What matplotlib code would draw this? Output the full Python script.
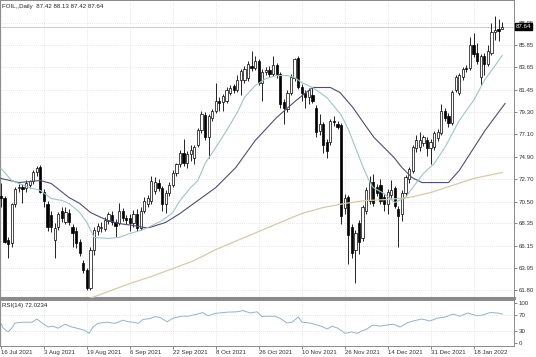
import numpy as np
import matplotlib
matplotlib.use("Agg")
import matplotlib.pyplot as plt
import matplotlib.transforms as mtransforms

# daily candles, one per trading day from 16 Jul 2021
opens = [71.0, 70.8, 66.7, 66.4, 70.3, 71.8, 71.9, 71.8, 72.1, 72.5,
         73.4, 73.9, 71.4, 70.3, 69.2, 66.7, 68.0, 69.6, 68.5, 69.4,
         68.0, 67.6, 66.5, 64.5, 63.8, 62.0, 65.7, 67.6, 67.9, 67.8,
         68.6, 69.2, 68.5, 68.4, 69.6, 68.9, 68.9, 68.4, 69.3, 67.9,
         69.6, 70.3, 70.6, 71.5, 72.3, 71.8, 70.3, 71.3, 72.1, 73.3,
         74.2, 75.3, 74.3, 75.2, 74.8, 76.0, 77.5, 79.0, 76.8, 78.7,
         79.4, 80.4, 80.3, 80.4, 81.1, 81.8, 81.4, 82.4, 82.4, 82.6,
         83.8, 83.6, 84.3, 82.1, 83.2, 83.4, 83.0, 83.9, 83.0, 80.3,
         79.6, 81.1, 82.6, 84.6, 81.7, 81.1, 80.7, 80.9, 79.7, 77.4,
         78.1, 76.3, 76.3, 78.4, 78.1, 78.0, 69.9, 70.9, 68.0, 65.7,
         68.4, 66.9, 69.6, 70.6, 72.4, 71.9, 72.1, 70.9, 70.3, 71.1,
         71.8, 69.8, 69.3, 71.3, 72.7, 73.5, 75.7, 75.8, 76.2, 76.5,
         75.7, 75.8, 76.7, 77.2, 79.4, 78.9, 78.2, 81.4, 81.1, 82.7,
         83.6, 83.6, 85.8, 85.1, 82.7, 84.8, 84.0, 85.1, 87.1, 87.4,
         87.42]
highs = [72.3, 71.0, 67.0, 70.4, 71.9, 72.2, 72.2, 72.6, 72.6, 73.6,
         74.0, 74.1, 71.7, 70.6, 69.6, 68.4, 69.5, 70.0, 70.0, 69.8,
         68.3, 68.0, 66.8, 64.8, 64.0, 66.0, 68.0, 68.4, 68.5, 69.0,
         69.5, 69.6, 68.8, 70.4, 69.9, 69.2, 69.3, 69.7, 69.8, 70.0,
         70.9, 71.1, 73.0, 72.9, 72.7, 72.0, 71.6, 72.4, 73.6, 74.3,
         75.6, 76.6, 75.5, 76.0, 76.0, 77.7, 79.4, 79.3, 79.1, 79.6,
         82.1, 80.7, 81.0, 81.7, 81.9, 82.0, 82.9, 83.5, 83.8, 84.3,
         85.3, 84.8, 84.5, 83.5, 83.7, 83.8, 84.8, 84.1, 83.2, 80.6,
         81.4, 83.0, 84.6, 84.8, 82.0, 81.4, 81.6, 81.7, 80.0, 79.1,
         78.3, 76.6, 78.6, 78.9, 78.4, 78.2, 71.2, 71.1, 68.3, 67.7,
         68.7, 70.2, 71.9, 73.0, 73.2, 72.2, 72.7, 71.2, 71.7, 72.6,
         72.0, 70.1, 71.6, 73.1, 73.9, 76.0, 77.0, 77.3, 77.0, 76.8,
         76.6, 77.4, 77.6, 80.1, 79.7, 79.2, 81.4, 82.9, 83.1, 83.7,
         83.9, 86.6, 87.0, 86.0, 85.0, 85.1, 85.8, 88.0, 88.7, 88.4,
         88.13]
lows = [70.0, 66.4, 65.0, 66.0, 70.0, 71.4, 70.4, 71.4, 71.8, 72.2,
        73.0, 71.3, 70.0, 67.6, 67.5, 65.0, 67.7, 68.5, 68.3, 68.2,
        66.0, 65.9, 65.2, 63.5, 61.8, 61.8, 65.3, 67.2, 67.5, 67.6,
        68.3, 68.2, 67.0, 68.2, 68.6, 68.3, 67.6, 68.0, 67.6, 67.7,
        69.4, 70.0, 70.3, 71.2, 71.5, 69.6, 69.4, 71.0, 71.9, 73.0,
        73.9, 74.0, 73.8, 74.5, 74.2, 75.8, 77.2, 76.5, 74.8, 78.4,
        79.2, 79.4, 79.4, 80.2, 80.9, 81.1, 81.2, 80.9, 82.1, 82.3,
        83.3, 83.4, 81.9, 80.4, 82.9, 82.7, 82.8, 82.6, 79.7, 78.1,
        79.3, 80.9, 82.3, 81.5, 80.4, 79.7, 80.1, 80.2, 76.8, 77.0,
        75.3, 74.8, 76.0, 77.9, 77.6, 68.3, 69.3, 64.4, 65.0, 62.5,
        65.4, 66.6, 69.3, 70.3, 70.1, 71.0, 70.3, 69.6, 69.3, 70.8,
        69.9, 66.0, 68.6, 71.0, 72.3, 73.3, 75.4, 75.5, 75.9, 75.0,
        74.2, 75.6, 76.4, 77.0, 78.4, 77.8, 78.0, 81.2, 80.9, 82.4,
        83.2, 83.4, 84.7, 84.0, 81.9, 82.9, 83.8, 84.9, 86.3, 86.2,
        87.42]
closes = [70.8, 66.5, 66.3, 70.3, 71.7, 71.9, 71.7, 72.3, 72.5, 73.4,
          73.8, 71.4, 70.6, 68.0, 68.0, 67.9, 69.3, 68.9, 69.5, 68.5,
          67.4, 66.4, 65.5, 63.8, 62.0, 65.7, 67.7, 68.1, 68.0, 68.7,
          69.3, 68.5, 68.1, 69.6, 68.9, 68.7, 68.4, 69.3, 67.9, 69.6,
          70.6, 70.8, 72.5, 72.4, 71.8, 70.3, 71.3, 72.1, 73.3, 74.2,
          75.3, 74.3, 75.2, 75.6, 75.8, 77.5, 79.1, 76.8, 78.9, 79.4,
          80.4, 80.2, 80.8, 81.4, 81.6, 81.4, 82.4, 83.3, 83.5, 84.0,
          83.6, 84.3, 82.1, 83.2, 83.4, 83.0, 83.9, 83.0, 80.1, 79.7,
          81.1, 82.7, 84.5, 81.7, 81.1, 80.7, 81.4, 80.4, 77.3, 78.1,
          76.0, 75.5, 78.4, 78.3, 77.8, 69.1, 70.8, 67.2, 65.5, 67.4,
          66.5, 70.0, 71.6, 72.4, 70.4, 71.3, 70.6, 70.3, 71.4, 71.6,
          70.1, 69.1, 71.3, 72.9, 73.7, 75.8, 76.5, 76.5, 76.8, 75.7,
          76.3, 77.2, 77.3, 79.4, 78.7, 78.2, 81.2, 82.7, 82.9, 83.5,
          83.5, 85.8, 85.0, 84.3, 84.8, 84.0, 85.3, 87.1, 87.3, 87.2,
          87.64]

date_labels = ["16 Jul 2021", "3 Aug 2021", "19 Aug 2021", "6 Sep 2021",
               "22 Sep 2021", "8 Oct 2021", "26 Oct 2021", "10 Nov 2021",
               "26 Nov 2021", "14 Dec 2021", "31 Dec 2021", "18 Jan 2022"]
date_label_bars = [0, 12, 24, 36, 48, 60, 72, 84, 96, 108, 120, 132]

price_ticks = [88.05, 85.85, 83.65, 81.45, 79.30, 77.10, 74.90,
               72.70, 70.50, 68.35, 66.15, 63.95, 61.80]

# moving averages (bar index, price)
fast_ma_bars = [0, 3, 5, 8, 11, 14, 17, 19, 22, 24, 26, 30, 33, 36, 39, 41,
                45, 48, 50, 53, 55, 57, 60, 63, 66, 68, 71, 74, 77, 80, 82,
                84, 87, 91, 95, 97, 99, 101, 103, 104, 107, 110, 113, 115,
                118, 121, 124, 128, 132, 135, 140]
fast_ma = [73.74, 72.56, 72.27, 71.87, 71.58, 70.80, 70.60, 70.31, 69.42,
           68.45, 66.98, 66.88, 66.98, 67.37, 67.66, 67.95, 68.64, 69.42,
           70.60, 71.87, 72.56, 74.23, 75.80, 77.46, 79.23, 80.70, 81.87,
           82.56, 82.85, 82.85, 82.66, 82.17, 81.68, 80.70, 79.00, 77.60,
           75.80, 74.00, 72.40, 71.87, 71.28, 70.40, 70.89, 71.87, 73.25,
           74.23, 75.80, 78.44, 80.40, 82.36, 84.81]

slow_ma_bars = [0, 2.5, 5, 8, 11, 14, 16.5, 19, 22, 25, 28, 30, 33, 37, 40,
                41.5, 46, 50, 55, 60, 65.6, 71, 77, 82.4, 87, 92, 94.7,
                98.3, 101.4, 104.2, 107, 109.8, 112, 114.8, 117.6, 121, 125,
                128, 131.6, 135.2, 140.8]
slow_ma = [72.76, 72.56, 72.36, 72.46, 72.56, 72.27, 71.58, 70.89, 70.31,
           69.42, 68.93, 68.64, 68.34, 68.15, 67.95, 67.95, 68.45, 69.33,
           70.60, 71.87, 73.84, 76.48, 78.74, 80.40, 81.68, 81.68, 81.19,
           79.72, 78.15, 76.78, 75.80, 74.81, 73.83, 72.85, 72.36, 72.36,
           72.36, 73.54, 75.50, 77.46, 80.11]

long_ma_bars = [24, 30, 36, 42, 48, 54, 60, 66, 72, 78, 84, 90, 96, 102,
                108, 114, 120, 126, 132, 140]
long_ma = [60.90, 61.68, 62.46, 63.15, 63.93, 64.72, 65.79, 66.68, 67.56,
           68.45, 69.32, 69.91, 70.31, 70.60, 70.70, 70.89, 71.38, 72.07,
           72.76, 73.35]

rsi_bars = [0, 0.6, 2, 3, 3.9, 6.1, 8.7, 10, 11.5, 13.1, 14.5, 15.9, 17.9,
            19.8, 22.1, 23.5, 24.6, 25.7, 27.1, 29.6, 31.8, 34.1, 35.5,
            36.9, 38.3, 39.7, 41.6, 43, 44.4, 46.4, 48, 50.6, 52.2, 54.7,
            56.4, 57.8, 59.8, 63.1, 65.9, 67.6, 69.6, 71.5, 72.9, 74.3,
            76.5, 77.9, 79.9, 81.3, 83, 84.1, 86.3, 88.3, 89.7, 91.1, 92.5,
            94.1, 96.1, 98, 99.4, 100.8, 102.2, 103.9, 105.9, 107.8, 109.5,
            111.5, 113.4, 115.1, 117.6, 119.8, 121.8, 124, 126.3, 128.2,
            130.4, 132.9, 134.6, 136.6, 138.8, 140]
rsi = [49, 37, 28, 37, 50, 52, 52, 60, 50, 40, 42, 37, 47, 40, 35, 31, 24,
       40, 49, 52, 49, 57, 53, 52, 49, 59, 61, 66, 64, 53, 62, 67, 67, 72,
       76, 68, 74, 77, 78, 81, 75, 78, 66, 67, 67, 62, 50, 52, 65, 52, 50,
       45, 41, 35, 42, 37, 24, 28, 24, 30, 35, 45, 42, 45, 47, 40, 50, 55,
       60, 55, 62, 65, 72, 67, 75, 68, 70, 76, 75, 72.0]

header = "FOIL,,Daily  87.42 88.13 87.42 87.64"
rsi_header = "RSI(14) 72.0234"
last_price = 87.64

plt.rcParams['font.family'] = ['Liberation Sans', 'DejaVu Sans']
fs = 4.4
grid_kw = dict(color='#cfcfcf', linewidth=0.5, linestyle=(0, (1, 2)))

fig = plt.figure(figsize=(5.36, 3.57), dpi=100, facecolor='white')
ax = fig.add_axes([0.0, 1 - 298 / 357, 514 / 536, 298 / 357])
rax = fig.add_axes([0.0, 1 - 346 / 357, 514 / 536, 46 / 357], sharex=ax)

idx = np.arange(len(closes))
o = np.array(opens)
c = np.array(closes)
up = c >= o
body_lo = np.minimum(o, c)
body_h = np.maximum(np.abs(c - o), 0.06)

ax.vlines(idx, lows, highs, color='black', linewidth=0.6, zorder=3)
ax.bar(idx[up], body_h[up], bottom=body_lo[up], width=0.62, color='white',
       edgecolor='black', linewidth=0.5, zorder=4)
ax.bar(idx[~up], body_h[~up], bottom=body_lo[~up], width=0.62, color='black',
       edgecolor='black', linewidth=0.5, zorder=4)

ax.plot(long_ma_bars, long_ma, color='#d9c9a9', linewidth=0.9, zorder=5)
ax.plot(slow_ma_bars, slow_ma, color='#4d4d7a', linewidth=0.8, zorder=5)
ax.plot(fast_ma_bars, fast_ma, color='#9cc6c4', linewidth=0.8, zorder=5)

ax.axhline(last_price, color='#c4c4c4', linewidth=0.6, zorder=1)

ax.set_xlim(-0.28, 143.3)
ax.set_ylim(61.04, 90.26)
ax.yaxis.tick_right()
ax.set_yticks(price_ticks)
ax.set_yticklabels([f"{p:.2f}" for p in price_ticks])
ax.tick_params(axis='y', labelsize=fs, length=2, width=0.5, color='#555555',
               labelcolor='#333333', pad=1.5)
ax.tick_params(axis='x', length=0, labelbottom=False)
ax.set_xticks(date_label_bars)
ax.grid(True, **grid_kw)
for s in ax.spines.values():
    s.set_color('#8a8a8a')
    s.set_linewidth(0.7)
ax.spines['bottom'].set_linewidth(2.2)

ax.text(0.004, 0.988, header, transform=ax.transAxes, fontsize=fs,
        color='#222222', va='top', ha='left')

trans = mtransforms.blended_transform_factory(ax.transAxes, ax.transData)
ax.text(1.003, last_price, f"{last_price:.2f}", transform=trans, fontsize=fs,
        color='white', va='center', ha='left', zorder=10, clip_on=False,
        bbox=dict(boxstyle='square,pad=0.15', facecolor='black',
                  edgecolor='black'))

# RSI panel
rax.plot(rsi_bars, rsi, color='#8fb3cf', linewidth=0.7)
rax.set_ylim(-7.5, 107.5)
rax.yaxis.tick_right()
rax.set_yticks([100, 70, 30, 0])
rax.tick_params(axis='y', labelsize=fs, length=2, width=0.5, color='#555555',
                labelcolor='#333333', pad=1.5)
rax.set_xticks(date_label_bars)
rax.set_xticklabels(date_labels)
rax.tick_params(axis='x', labelsize=fs, length=2, width=0.5, color='#555555',
                labelcolor='#333333', pad=1)
for lbl in rax.get_xticklabels():
    lbl.set_horizontalalignment('left')
rax.grid(True, axis='x', **grid_kw)
for lvl in (70, 30):
    rax.axhline(lvl, **grid_kw)
for s in rax.spines.values():
    s.set_color('#8a8a8a')
    s.set_linewidth(0.7)
rax.text(0.004, 0.93, rsi_header, transform=rax.transAxes, fontsize=fs,
         color='#222222', va='top', ha='left')

fig.savefig("out.png", dpi=100, facecolor='white')
